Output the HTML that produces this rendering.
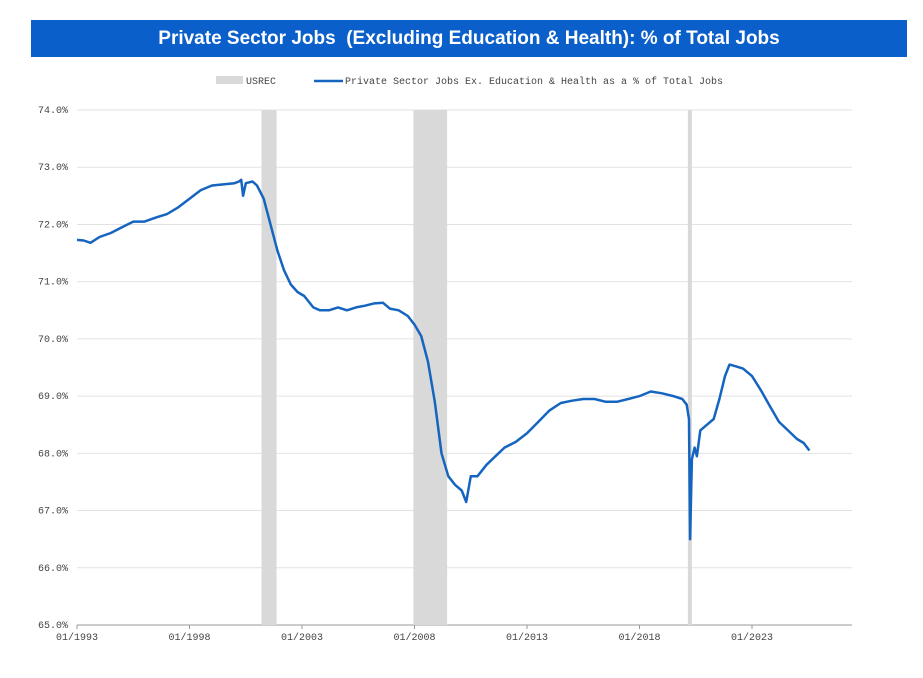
<!DOCTYPE html>
<html><head><meta charset="utf-8"><style>
body{margin:0;background:#fff;width:923px;height:678px;overflow:hidden;font-family:"Liberation Sans",sans-serif}
#title{position:absolute;left:31px;top:20px;width:876px;height:37px;background:#0b5fcb;color:#fff;font-weight:bold;font-size:19px;text-align:center;line-height:37px}
svg{position:absolute;left:0;top:0}
text{font-family:"Liberation Mono",monospace;font-size:10px;fill:#444}
</style></head><body>
<div id="title">Private Sector Jobs &nbsp;(Excluding Education &amp; Health): % of Total Jobs</div>
<svg id="c" width="923" height="678"></svg>
<script>
const yTicks=[65,66,67,68,69,70,71,72,73,74];
const xTickYears=[1993,1998,2003,2008,2013,2018,2023];
const xTickLabels=["01/1993","01/1998","01/2003","01/2008","01/2013","01/2018","01/2023"];
const recessions=[[2001.2,2001.87],[2007.95,2009.45],[2020.15,2020.33]];
const years=[1993.0,1993.3,1993.6,1994.0,1994.5,1995.0,1995.5,1996.0,1996.5,1997.0,1997.5,1998.0,1998.5,1999.0,1999.5,2000.0,2000.2,2000.3,2000.38,2000.5,2000.8,2001.0,2001.3,2001.6,2001.9,2002.2,2002.5,2002.8,2003.1,2003.5,2003.8,2004.2,2004.6,2005.0,2005.4,2005.8,2006.2,2006.6,2006.9,2007.3,2007.7,2008.0,2008.3,2008.6,2008.9,2009.2,2009.5,2009.8,2010.1,2010.3,2010.5,2010.8,2011.2,2011.6,2012.0,2012.5,2013.0,2013.5,2014.0,2014.5,2015.0,2015.5,2016.0,2016.5,2017.0,2017.5,2018.0,2018.5,2019.0,2019.5,2019.9,2020.1,2020.2,2020.25,2020.33,2020.45,2020.55,2020.7,2021.0,2021.3,2021.55,2021.8,2022.0,2022.3,2022.6,2023.0,2023.4,2023.8,2024.2,2024.6,2025.0,2025.3,2025.55];
const values=[71.73,71.72,71.68,71.78,71.85,71.95,72.05,72.05,72.12,72.18,72.3,72.45,72.6,72.68,72.7,72.72,72.75,72.78,72.5,72.72,72.75,72.68,72.45,72.0,71.55,71.2,70.95,70.82,70.75,70.55,70.5,70.5,70.55,70.5,70.55,70.58,70.62,70.63,70.53,70.5,70.4,70.25,70.05,69.6,68.9,68.0,67.6,67.45,67.35,67.15,67.6,67.6,67.8,67.95,68.1,68.2,68.35,68.55,68.75,68.88,68.92,68.95,68.95,68.9,68.9,68.95,69.0,69.08,69.05,69.0,68.95,68.85,68.6,66.5,67.9,68.1,67.95,68.4,68.5,68.6,68.95,69.35,69.55,69.52,69.48,69.35,69.1,68.82,68.55,68.4,68.25,68.18,68.05];
const NS="http://www.w3.org/2000/svg",svg=document.getElementById('c');
const L=77,R=852,T=110,B=625;
const xs=y=>L+(y-1993)*22.5, ys=v=>B-(v-65)*(B-T)/9;
function mk(t,a,p){const e=document.createElementNS(NS,t);for(const k in a)e.setAttribute(k,a[k]);(p||svg).appendChild(e);return e;}
yTicks.forEach(v=>{
 const g=mk('line',{x1:L,x2:R,y1:ys(v),y2:ys(v),stroke:v==65?'#999':'#e2e2e2','stroke-width':1});
 
 
 const t=mk('text',{x:68,y:ys(v)+3,'text-anchor':'end'});t.textContent=v.toFixed(1)+'%';
 
 
});
recessions.forEach(r=>{
 const e=mk('rect',{x:xs(r[0]),y:T,width:xs(r[1])-xs(r[0]),height:B-T,fill:'#d9d9d9'});
 
 
});
xTickYears.forEach((y,i)=>{
 mk('line',{x1:xs(y),x2:xs(y),y1:B,y2:B+4,stroke:'#999'});
 const t=mk('text',{x:xs(y),y:B+15,'text-anchor':'middle'});t.textContent=xTickLabels[i];
 
 
});
const p=mk('path',{d:years.map((y,i)=>(i?'L':'M')+xs(y).toFixed(1)+','+ys(values[i]).toFixed(1)).join(''),fill:'none',stroke:'#1565c0','stroke-width':2.5,'stroke-linejoin':'round'});


const lg=mk('g',{});


mk('rect',{x:216,y:76,width:27,height:8,fill:'#d9d9d9'},lg);
const t1=mk('text',{x:246,y:84},lg);t1.textContent='USREC';
mk('line',{x1:314,x2:343,y1:81,y2:81,stroke:'#1565c0','stroke-width':2.5},lg);
const t2=mk('text',{x:345,y:84},lg);t2.textContent='Private Sector Jobs Ex. Education & Health as a % of Total Jobs';
</script>
</body></html>
